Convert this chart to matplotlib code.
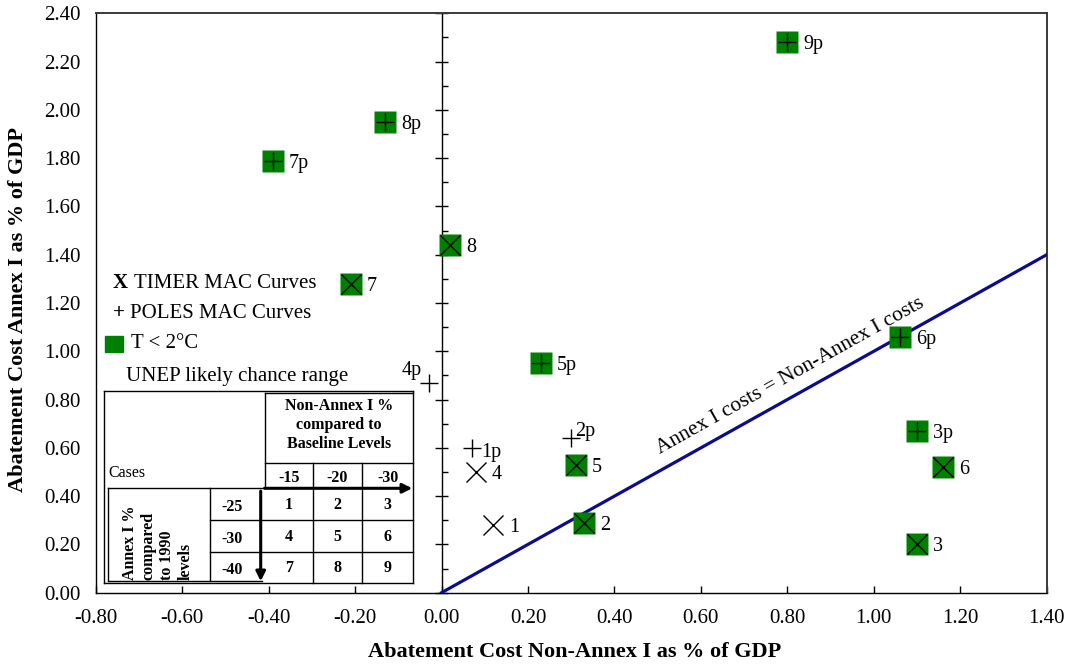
import numpy as np
import matplotlib
matplotlib.use("Agg")
import matplotlib.pyplot as plt
from matplotlib.lines import Line2D
from matplotlib.markers import TICKLEFT, TICKRIGHT

plt.rcParams['font.family'] = ['Liberation Serif', 'DejaVu Serif']

# TIMER MAC curve cases (x markers)
timer_labels = ['1', '2', '3', '4', '5', '6', '7', '8']
timer_x = [0.12, 0.33, 1.10, 0.08, 0.31, 1.16, -0.21, 0.02]
timer_y = [0.28, 0.29, 0.20, 0.50, 0.53, 0.52, 1.28, 1.44]
timer_2c = [False, True, True, False, True, True, True, True]

# POLES MAC curve cases (+ markers)
poles_labels = ['1p', '2p', '3p', '4p', '5p', '6p', '7p', '8p', '9p']
poles_x = [0.07, 0.30, 1.10, -0.03, 0.23, 1.06, -0.39, -0.13, 0.80]
poles_y = [0.60, 0.64, 0.67, 0.87, 0.95, 1.06, 1.79, 1.95, 2.28]
poles_2c = [False, False, True, False, True, True, True, True, True]

# equal cost line
equal_x = [0.0, 1.40]
equal_y = [0.0, 1.40]

x_ticks = np.round(np.arange(-0.8, 1.41, 0.2), 2)
y_ticks = np.round(np.arange(0.0, 2.41, 0.2), 2)
mid_minor = np.round(np.arange(0.1, 2.4, 0.2), 2)

# table contents
na_levels = ['-15', '-20', '-30']
a1_levels = ['-25', '-30', '-40']
case_grid = [['1', '2', '3'], ['4', '5', '6'], ['7', '8', '9']]

GREEN = '#008000'
NAVY = '#0c0c8c'
W, H = 1065, 664

fig = plt.figure(figsize=(W / 100, H / 100), dpi=100)
ax = fig.add_axes([95.7 / W, 1 - 592.7 / H, 951 / W, 579.4 / H])
ax.set_xlim(-0.8, 1.4)
ax.set_ylim(0, 2.4)

for s in ['left', 'bottom']:
    ax.spines[s].set_color('black')
    ax.spines[s].set_linewidth(1.0)
for s in ['top', 'right']:
    ax.spines[s].set_color('#3a3a3a')
    ax.spines[s].set_linewidth(1.4)

ax.set_xticks(x_ticks)
ax.set_xticklabels([f"{t:.2f}".replace('-0.00', '0.00') for t in x_ticks])
ax.set_yticks(y_ticks)
ax.set_yticklabels([f"{t:.2f}" for t in y_ticks])
ax.tick_params(axis='x', direction='in', length=5, width=1, labelsize=15, pad=12)
ax.tick_params(axis='y', length=0, labelsize=15, pad=11)

# vertical axis through x = 0 with its own ticks
ax.axvline(0, color='black', lw=1.0, zorder=2)
ax.plot(np.zeros_like(y_ticks), y_ticks, ls='none', marker=TICKLEFT, ms=5, mew=1, color='black', clip_on=False)
ax.plot(np.zeros_like(y_ticks), y_ticks, ls='none', marker=TICKRIGHT, ms=4.5, mew=1, color='black', clip_on=False)
ax.plot(np.zeros_like(mid_minor), mid_minor, ls='none', marker=TICKRIGHT, ms=4.5, mew=1, color='black')

# equal cost line
ax.plot(equal_x, equal_y, color=NAVY, lw=2.3, zorder=3)
p0 = ax.transData.transform((0, 0))
p1 = ax.transData.transform((1, 1))
ang = np.degrees(np.arctan2(p1[1] - p0[1], p1[0] - p0[0]))
ax.annotate('Annex I costs = Non-Annex I costs', xy=(0.825, 0.825), xytext=(-8, 17),
            textcoords='offset pixels', rotation=ang, rotation_mode='anchor',
            ha='center', va='center', fontsize=15.5)

# points
for lab, x, y, g in zip(timer_labels, timer_x, timer_y, timer_2c):
    if g:
        ax.plot(x, y, marker='s', ms=15.6, mfc=GREEN, mec='none', zorder=4)
    ax.plot(x, y, marker='x', ms=14, mew=1.0, color='black', zorder=5)

for lab, x, y, g in zip(poles_labels, poles_x, poles_y, poles_2c):
    if g:
        ax.plot(x, y, marker='s', ms=15.6, mfc=GREEN, mec='none', zorder=4)
    ax.plot(x, y, marker='+', ms=12.5, mew=1.0, color='black', zorder=5)

# label offsets in pixels (right, up)
offsets = {'2p': (4, 9, 'left'), '4p': (-7, 15, 'right'), '1p': (9, -2, 'left')}
for lab, x, y in zip(timer_labels + poles_labels, timer_x + poles_x, timer_y + poles_y):
    dx, dy, ha = offsets.get(lab, (16, 0, 'left'))
    ax.annotate(lab, xy=(x, y), xytext=(dx, dy), textcoords='offset pixels',
                ha=ha, va='center_baseline', fontsize=14.5, zorder=6)

# axis titles
fig.text(575 / W, 1 - 652 / H, 'Abatement Cost Non-Annex I as % of GDP',
         ha='center', va='center', fontsize=16, fontweight='bold')
fig.text(18 / W, 1 - 310 / H, 'Abatement Cost Annex I as % of GDP',
         ha='center', va='center', rotation=90, fontsize=16, fontweight='bold')


# legend and table drawn in pixel positions of the figure
def fx(x):
    return x / W


def fy(y):
    return 1 - y / H


def hline(x0, x1, y, lw=1.0):
    fig.add_artist(Line2D([fx(x0), fx(x1)], [fy(y), fy(y)], color='black', lw=lw))


def vline(x, y0, y1, lw=1.0):
    fig.add_artist(Line2D([fx(x), fx(x)], [fy(y0), fy(y1)], color='black', lw=lw))


fig.text(fx(113), fy(283), 'X', fontsize=15, fontweight='bold', va='center')
fig.text(fx(134), fy(283), 'TIMER MAC Curves', fontsize=15, va='center')
fig.text(fx(113), fy(313), '+', fontsize=15, fontweight='bold', va='center')
fig.text(fx(130), fy(313), 'POLES MAC Curves', fontsize=15, va='center')
fig.add_artist(plt.Rectangle((fx(105), fy(352)), 18 / W, 16 / H, color=GREEN,
                             transform=fig.transFigure))
fig.text(fx(131), fy(344), 'T < 2°C', fontsize=15, va='center')
fig.text(fx(126), fy(376), 'UNEP likely chance range', fontsize=15, va='center')

# table frame
cols = [265, 313.3, 361.7, 413.3]
rows = [488.3, 520, 551.7, 583.3]
hline(104.3, 413.3, 390.7)
hline(104.3, 413.3, 583.3)
vline(104.3, 390.7, 583.3)
vline(413.3, 390.7, 583.3)
hline(265, 413.3, 393.3)
vline(265, 393.3, 488.3)
hline(265, 413.3, 463.3)
for c in cols[1:3]:
    vline(c, 463.3, 583.3)
for r in rows[1:3]:
    hline(210, 413.3, r)
hline(108.3, 261.7, 488.3)
vline(108.3, 488.3, 580.7)
hline(108.3, 261.7, 580.7)
vline(210, 488.3, 580.7)

# arrows
fig.add_artist(matplotlib.patches.FancyArrowPatch((fx(261.7), fy(488.3)), (fx(415), fy(488.3)),
               transform=fig.transFigure, arrowstyle='-|>', mutation_scale=14, lw=2.2, color='black'))
fig.add_artist(matplotlib.patches.FancyArrowPatch((fx(260.7), fy(488.3)), (fx(260.7), fy(584)),
               transform=fig.transFigure, arrowstyle='-|>', mutation_scale=14, lw=2.2, color='black'))

fig.text(fx(339), fy(425), 'Non-Annex I %\ncompared to\nBaseline Levels', ha='center', va='center',
         fontsize=11.5, fontweight='bold', linespacing=1.25)
fig.text(fx(108), fy(473), 'Cases', ha='left', va='center', fontsize=11.5)
for i, lv in enumerate(na_levels):
    fig.text(fx((cols[i] + cols[i + 1]) / 2), fy(478), lv, ha='center', va='center',
             fontsize=11.5, fontweight='bold')
for j, lv in enumerate(a1_levels):
    yc = (rows[j] + rows[j + 1]) / 2 + 3
    fig.text(fx(232), fy(yc), lv, ha='center', va='center', fontsize=11.5, fontweight='bold')
    for i in range(3):
        fig.text(fx((cols[i] + cols[i + 1]) / 2), fy(yc - 2), case_grid[j][i], ha='center',
                 va='center', fontsize=11.5, fontweight='bold')
fig.text(fx(158), fy(580), 'Annex I %\ncompared\nto 1990\nlevels', ha='center', va='bottom',
         rotation=90, multialignment='left', fontsize=11.5, fontweight='bold', linespacing=1.2)

fig.savefig('out.png', dpi=100)
